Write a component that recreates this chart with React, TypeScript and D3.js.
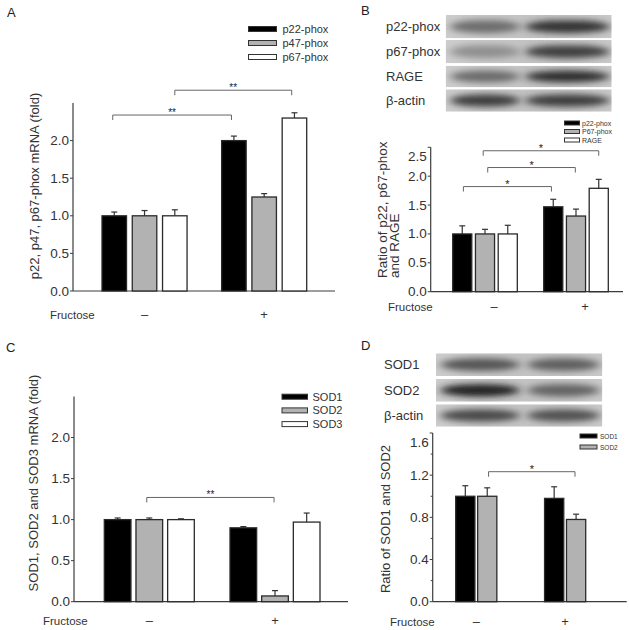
import React from 'react';
import * as d3 from 'd3';

const groups = ['–', '+'];

const seriesA = ['p22-phox', 'p47-phox', 'p67-phox'];
const valuesA = [[1.0, 1.0, 1.0], [2.0, 1.25, 2.3]];
const errorsA = [[0.05, 0.07, 0.08], [0.06, 0.045, 0.07]];
const ticksA = [0, 0.5, 1.0, 1.5, 2.0];

const seriesB = ['p22-phox', 'P67-phox', 'RAGE'];
const valuesB = [[1.0, 1.0, 1.0], [1.47, 1.31, 1.79]];
const errorsB = [[0.14, 0.08, 0.15], [0.13, 0.12, 0.155]];
const ticksB = [0, 0.5, 1.0, 1.5, 2.0, 2.5];

const seriesC = ['SOD1', 'SOD2', 'SOD3'];
const valuesC = [[1.0, 1.0, 1.0], [0.9, 0.07, 0.97]];
const errorsC = [[0.02, 0.02, 0.01], [0.015, 0.065, 0.11]];
const ticksC = [0, 0.5, 1.0, 1.5, 2.0];

const seriesD = ['SOD1', 'SOD2'];
const valuesD = [[1.0, 1.0], [0.98, 0.78]];
const errorsD = [[0.1, 0.08], [0.11, 0.05]];
const ticksD = [0, 0.4, 0.8, 1.2, 1.6];
const minorTicksD = [0.2, 0.6, 1.0, 1.4];

const blotLabelsB = ['p22-phox', 'p67-phox', 'RAGE', 'β-actin'];
const blotDarknessB = [[0.5, 0.82], [0.3, 0.76], [0.52, 0.86], [0.78, 0.78]];
const blotLabelsD = ['SOD1', 'SOD2', 'β-actin'];
const blotDarknessD = [[0.64, 0.58], [0.92, 0.55], [0.7, 0.66]];

const FILLS = ['#000000', '#b2b2b2', '#ffffff'];
const FONT = '"Liberation Sans", Arial, Helvetica, sans-serif';
const AX = '#3c3c3c';

type Bracket = { from: [number, number]; to: [number, number]; level: number; label: string };

interface PanelCfg {
  series: string[];
  values: number[][];
  errors: number[][];
  barRange: [number, number];
  groupPad: number;
  barPad: number;
  yDomain: [number, number];
  yRange: [number, number];
  axisX: number;
  axisXEnd: number;
  ticks: number[];
  minor?: number[];
  tickFs: number;
  capW: number;
  brackets: Bracket[];
  starFs: number;
  legend: { x: number; y: number; dy: number; w: number; h: number; fs: number; gap: number };
  ylabel: { lines: string[]; x: number; y: number; anchor: string; dx: number; fs: number };
  fructose: { x: number; y: number; dx: number; fs: number };
  letter: { text: string; x: number; y: number };
}

const fmt = d3.format('.1f');

function BarPanel({ c }: { c: PanelCfg }) {
  const outer = d3.scaleBand<string>().domain(groups).range(c.barRange).paddingInner(c.groupPad).paddingOuter(0);
  const inner = d3.scaleBand<string>().domain(c.series).range([0, outer.bandwidth()]).paddingInner(c.barPad).paddingOuter(0);
  const y = d3.scaleLinear().domain(c.yDomain).range(c.yRange);
  const bw = inner.bandwidth();
  const step = inner.step();
  const bx = (g: number, s: number) => (outer(groups[g]) as number) + s * step + bw / 2;
  const yTop = c.yRange[1];
  return (
    <g fontFamily={FONT}>
      <text x={c.letter.x} y={c.letter.y} fontSize={13} fill="#222">{c.letter.text}</text>
      <line x1={c.axisX} x2={c.axisX} y1={y(c.yDomain[0])} y2={yTop} stroke={AX} strokeWidth={1.2} />
      <line x1={c.axisX} x2={c.axisXEnd} y1={y(0)} y2={y(0)} stroke={AX} strokeWidth={1.2} />
      {c.ticks.map((t) => (
        <g key={'t' + t}>
          <line x1={c.axisX - 3} x2={c.axisX} y1={y(t)} y2={y(t)} stroke={AX} strokeWidth={1} />
          <text x={c.axisX - 4} y={Math.max(y(t), yTop + 9)} fontSize={c.tickFs} textAnchor="end" dominantBaseline="central" fill="#333">{fmt(t)}</text>
        </g>
      ))}
      {(c.minor || []).map((t) => (
        <line key={'m' + t} x1={c.axisX - 2} x2={c.axisX} y1={y(t)} y2={y(t)} stroke={AX} strokeWidth={1} />
      ))}
      {c.values.map((row, gi) =>
        row.map((v, si) => {
          const x = (outer(groups[gi]) as number) + (inner(c.series[si]) as number);
          const cx = x + bw / 2;
          const e = c.errors[gi][si];
          return (
            <g key={gi + '-' + si}>
              <line x1={cx} x2={cx} y1={y(v)} y2={y(v + e)} stroke="#333" strokeWidth={1.2} />
              <line x1={cx - c.capW / 2} x2={cx + c.capW / 2} y1={y(v + e)} y2={y(v + e)} stroke="#333" strokeWidth={1.2} />
              <rect x={x} y={y(v)} width={bw} height={y(0) - y(v)} fill={FILLS[si]} stroke="#2a2a2a" strokeWidth={1.3} />
            </g>
          );
        })
      )}
      {c.brackets.map((b, i) => {
        const x1 = bx(b.from[0], b.from[1]);
        const x2 = bx(b.to[0], b.to[1]);
        const ly = y(b.level);
        return (
          <g key={'b' + i}>
            <path d={`M${x1},${ly + 5}V${ly}H${x2}V${ly + 5}`} fill="none" stroke="#666" strokeWidth={1} />
            <text x={(x1 + x2) / 2} y={ly + 1} fontSize={c.starFs} textAnchor="middle" fill="#222">{b.label}</text>
          </g>
        );
      })}
      {c.series.map((s, i) => (
        <g key={'l' + s}>
          <rect x={c.legend.x} y={c.legend.y + i * c.legend.dy - c.legend.h / 2} width={c.legend.w} height={c.legend.h} fill={FILLS[i]} stroke="#333" strokeWidth={1} />
          <text x={c.legend.x + c.legend.w + c.legend.gap} y={c.legend.y + i * c.legend.dy} fontSize={c.legend.fs} dominantBaseline="central" fill="#333">{s}</text>
        </g>
      ))}
      <g transform={`translate(${c.ylabel.x},${c.ylabel.y}) rotate(-90)`}>
        {c.ylabel.lines.map((l, i) => (
          <text key={l} x={0} y={i * c.ylabel.dx} fontSize={c.ylabel.fs} textAnchor={c.ylabel.anchor} dominantBaseline="central" fill="#333">{l}</text>
        ))}
      </g>
      <text x={c.fructose.x} y={c.fructose.y} fontSize={c.fructose.fs} fill="#333">Fructose</text>
      {groups.map((g) => (
        <text key={g} x={(outer(g) as number) + outer.bandwidth() / 2 + c.fructose.dx} y={c.fructose.y} fontSize={13} textAnchor="middle" fill="#333">{g}</text>
      ))}
    </g>
  );
}

interface BlotCfg {
  id: string;
  x0: number;
  x1: number;
  rows: [number, number][];
  labels: string[];
  dark: number[][];
  lanes: [number, number][];
  labelX: number;
  fs: number;
}

function Blot({ b }: { b: BlotCfg }) {
  const shade = d3.scaleLinear<string>().domain([0, 1]).range(['#c4c4c4', '#161616']).interpolate(d3.interpolateRgb);
  return (
    <g fontFamily={FONT}>
      <defs>
        <filter id={b.id + 'blur'} x="-50%" y="-100%" width="200%" height="300%">
          <feGaussianBlur stdDeviation="5 3" />
        </filter>
        <linearGradient id={b.id + 'bg'} x1="0" x2="1" y1="0" y2="0">
          <stop offset="0" stopColor="#cdcdcd" />
          <stop offset="0.5" stopColor="#c3c3c3" />
          <stop offset="1" stopColor="#c9c9c9" />
        </linearGradient>
        {b.rows.map((r, i) => (
          <clipPath key={i} id={b.id + 'clip' + i}>
            <rect x={b.x0} y={r[0]} width={b.x1 - b.x0} height={r[1] - r[0]} />
          </clipPath>
        ))}
      </defs>
      {b.rows.map((r, i) => (
        <g key={i}>
          <g clipPath={`url(#${b.id}clip${i})`}>
            <rect x={b.x0} y={r[0]} width={b.x1 - b.x0} height={r[1] - r[0]} fill={`url(#${b.id}bg)`} />
            {b.lanes.map((ln, li) => (
              <ellipse key={li} cx={(ln[0] + ln[1]) / 2} cy={(r[0] + r[1]) / 2} rx={(ln[1] - ln[0]) / 2} ry={(r[1] - r[0]) * 0.28} fill={shade(b.dark[i][li])} filter={`url(#${b.id}blur)`} />
            ))}
          </g>
          <text x={b.labelX} y={(r[0] + r[1]) / 2} fontSize={b.fs} dominantBaseline="central" fill="#333">{b.labels[i]}</text>
        </g>
      ))}
    </g>
  );
}

const panelA: PanelCfg = {
  series: seriesA, values: valuesA, errors: errorsA,
  barRange: [102, 306.7], groupPad: 0.289, barPad: 0.19,
  yDomain: [0, 2.5], yRange: [291, 103], axisX: 73, axisXEnd: 335,
  ticks: ticksA, tickFs: 13.5, capW: 6,
  brackets: [
    { from: [0, -0.05], to: [1, -0.08], level: 2.34, label: '**' },
    { from: [0, 2], to: [1, 1.91], level: 2.67, label: '**' },
  ],
  starFs: 10,
  legend: { x: 248.5, y: 29, dy: 14, w: 28, h: 5, fs: 11, gap: 6 },
  ylabel: { lines: ['p22, p47, p67-phox mRNA (fold)'], x: 34, y: 186, anchor: 'middle', dx: 0, fs: 13 },
  fructose: { x: 50, y: 319, dx: 0, fs: 11.5 },
  letter: { text: 'A', x: 7, y: 17 },
};

const panelB: PanelCfg = {
  series: seriesB, values: valuesB, errors: errorsB,
  barRange: [452.7, 608.3], groupPad: 0.29, barPad: 0.16,
  yDomain: [0, 2.5], yRange: [291.7, 147.3], axisX: 430.7, axisXEnd: 623,
  ticks: ticksB, tickFs: 13.5, capW: 6,
  brackets: [
    { from: [0, 0.05], to: [1, -0.08], level: 1.82, label: '*' },
    { from: [0, 1.12], to: [1, 0.97], level: 2.15, label: '*' },
    { from: [0, 0.92], to: [1, 2.0], level: 2.44, label: '*' },
  ],
  starFs: 11,
  legend: { x: 564.5, y: 123, dy: 8.5, w: 15, h: 4, fs: 7, gap: 2.5 },
  ylabel: { lines: ['Ratio of p22, p67-phox', 'and RAGE'], x: 382.5, y: 278, anchor: 'start', dx: 12, fs: 13.5 },
  fructose: { x: 388, y: 311, dx: 9, fs: 11.5 },
  letter: { text: 'B', x: 361, y: 15 },
};

const panelC: PanelCfg = {
  series: seriesC, values: valuesC, errors: errorsC,
  barRange: [104.3, 320], groupPad: 0.284, barPad: 0.158,
  yDomain: [0, 2.5], yRange: [601.7, 396.5], axisX: 74, axisXEnd: 348,
  ticks: ticksC, tickFs: 13.5, capW: 6,
  brackets: [{ from: [0, 0.92], to: [1, 0.97], level: 1.27, label: '**' }],
  starFs: 10,
  legend: { x: 282, y: 396.7, dy: 13.7, w: 25.5, h: 5, fs: 11, gap: 5 },
  ylabel: { lines: ['SOD1, SOD2 and SOD3 mRNA (fold)'], x: 33, y: 483, anchor: 'middle', dx: 0, fs: 13 },
  fructose: { x: 43, y: 625, dx: 0, fs: 11.5 },
  letter: { text: 'C', x: 6, y: 352 },
};

const panelD: PanelCfg = {
  series: seriesD, values: valuesD, errors: errorsD,
  barRange: [455.7, 585.7], groupPad: 0.537, barPad: 0.124,
  yDomain: [0, 1.6], yRange: [601.7, 433], axisX: 432.7, axisXEnd: 626.7,
  ticks: ticksD, minor: minorTicksD, tickFs: 13.5, capW: 6,
  brackets: [{ from: [0, 1.06], to: [1, 0.95], level: 1.233, label: '*' }],
  starFs: 11,
  legend: { x: 580, y: 436, dy: 11, w: 17, h: 4, fs: 6.5, gap: 3 },
  ylabel: { lines: ['Ratio of SOD1 and SOD2'], x: 385, y: 519, anchor: 'middle', dx: 0, fs: 13 },
  fructose: { x: 390, y: 626, dx: 0, fs: 11.5 },
  letter: { text: 'D', x: 361, y: 350 },
};

const blotB: BlotCfg = {
  id: 'bb', x0: 445.7, x1: 611.7,
  rows: [[15, 38.3], [40, 63.3], [65.7, 87.3], [89.3, 111.7]],
  labels: blotLabelsB, dark: blotDarknessB,
  lanes: [[450, 520], [525, 610]], labelX: 386, fs: 13,
};

const blotD: BlotCfg = {
  id: 'bd', x0: 436, x1: 602.3,
  rows: [[353.3, 376], [379, 401.7], [404.3, 426.7]],
  labels: blotLabelsD, dark: blotDarknessD,
  lanes: [[440, 520], [527, 600]], labelX: 384, fs: 13,
};

export default function App() {
  return (
    <svg width={629} height={630} style={{ position: 'absolute', left: 0, top: 0, background: '#fff' }}>
      <rect x={0} y={0} width={629} height={630} fill="#fff" />
      <BarPanel c={panelA} />
      <Blot b={blotB} />
      <BarPanel c={panelB} />
      <BarPanel c={panelC} />
      <Blot b={blotD} />
      <BarPanel c={panelD} />
    </svg>
  );
}
